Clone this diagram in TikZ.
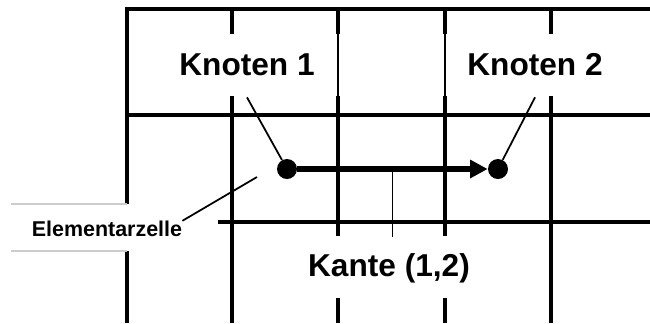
\documentclass[tikz,border=0pt]{standalone}
\usepackage{fontspec}
\setmainfont{Liberation Sans}
\usetikzlibrary{arrows.meta,calc}

\tikzset{
  wand/.style={line width=2.4pt},
  duenn/.style={line width=1.1pt},
  zeiger/.style={line width=1pt},
  knoten/.style={circle,fill=black,inner sep=0pt,minimum size=4mm},
  beschr/.style={font=\fontsize{18}{20}\selectfont\bfseries,inner sep=0pt,minimum height=12.8mm},
}

\begin{document}
\begin{tikzpicture}[x=0.2mm,y=-0.2mm]
  \useasboundingbox (0,0) rectangle (650,323);
  \draw[wand] (125,9) -- (650,9);
  \draw[wand] (125,115) -- (650,115);
  \draw[wand] (218,222) -- (650,222);
  \draw[wand] (127,9) -- (127,204) (127,251) -- (127,323);
  \foreach \x in {232,551}
    \draw[wand] (\x,9) -- (\x,34) (\x,96) -- (\x,323);
  \foreach \x in {338,445} {
    \draw[wand] (\x,9) -- (\x,34) (\x,96) -- (\x,236) (\x,298) -- (\x,323);
    \draw[duenn] (\x,34) -- (\x,96);
  }
  \draw[gray!40,line width=0.6pt] (11,204) -- (127,204) (11,251) -- (127,251);

  \node[knoten] (n1) at (287,169) {};
  \node[knoten] (n2) at (498,169) {};
  \node[beschr] (k1) at (247,65) {Knoten 1};
  \node[beschr] (k2) at (535,65) {Knoten 2};
  \node[beschr] (kante) at (389,268) {Kante (1,2)};
  \node[font=\fontsize{12.2}{14}\selectfont\bfseries,inner sep=0pt] (zelle) at (107,229) {Elementarzelle};
  \coordinate (zz) at (257,177);
  \coordinate (mitte) at ($(n1)!0.5!(n2)$);

  \draw[line width=3.3pt,-{Triangle[length=10pt,width=10pt]}] (n1) -- (n2);
  \draw[zeiger] (k1.south) -- (n1);
  \draw[zeiger] (k2.south) -- (n2);
  \draw[zeiger] (zelle.north east) -- (zz);
  \draw[duenn] (mitte) -- ++(0,68);
\end{tikzpicture}
\end{document}
